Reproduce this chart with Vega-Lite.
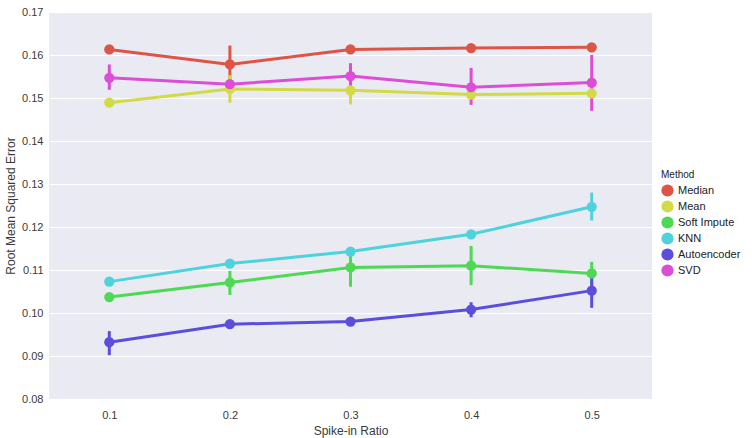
{
  "$schema": "https://vega.github.io/schema/vega-lite/v6.json",
  "autosize": {"type": "none"},
  "padding": {"left": 49, "top": 12, "right": 100, "bottom": 39},
  "width": 603,
  "height": 387,
  "background": "white",
  "config": {
    "font": "Liberation Sans",
    "view": {"fill": "#EAEAF2", "stroke": null},
    "axis": {"labelColor": "#3a3a3a", "titleColor": "#3a3a3a", "labelFontSize": 11, "titleFontSize": 12, "titleFontWeight": "normal", "domain": false, "ticks": false}
  },
  "data": {"values": [
    {"ratio": "0.1", "method": "Median", "rmse": 0.1613, "lo": 0.1610, "hi": 0.1616},
    {"ratio": "0.2", "method": "Median", "rmse": 0.1578, "lo": 0.1535, "hi": 0.1622},
    {"ratio": "0.3", "method": "Median", "rmse": 0.1613, "lo": 0.1610, "hi": 0.1616},
    {"ratio": "0.4", "method": "Median", "rmse": 0.1616, "lo": 0.1613, "hi": 0.1619},
    {"ratio": "0.5", "method": "Median", "rmse": 0.1618, "lo": 0.1615, "hi": 0.1621},
    {"ratio": "0.1", "method": "Mean", "rmse": 0.1489, "lo": 0.1486, "hi": 0.1492},
    {"ratio": "0.2", "method": "Mean", "rmse": 0.1521, "lo": 0.1489, "hi": 0.1553},
    {"ratio": "0.3", "method": "Mean", "rmse": 0.1518, "lo": 0.1485, "hi": 0.1551},
    {"ratio": "0.4", "method": "Mean", "rmse": 0.1508, "lo": 0.1500, "hi": 0.1516},
    {"ratio": "0.5", "method": "Mean", "rmse": 0.1511, "lo": 0.1503, "hi": 0.1519},
    {"ratio": "0.1", "method": "Soft Impute", "rmse": 0.1037, "lo": 0.1034, "hi": 0.1040},
    {"ratio": "0.2", "method": "Soft Impute", "rmse": 0.1071, "lo": 0.1042, "hi": 0.1098},
    {"ratio": "0.3", "method": "Soft Impute", "rmse": 0.1106, "lo": 0.1061, "hi": 0.1140},
    {"ratio": "0.4", "method": "Soft Impute", "rmse": 0.1110, "lo": 0.1065, "hi": 0.1156},
    {"ratio": "0.5", "method": "Soft Impute", "rmse": 0.1092, "lo": 0.1065, "hi": 0.1119},
    {"ratio": "0.1", "method": "KNN", "rmse": 0.1073, "lo": 0.1070, "hi": 0.1076},
    {"ratio": "0.2", "method": "KNN", "rmse": 0.1115, "lo": 0.1105, "hi": 0.1125},
    {"ratio": "0.3", "method": "KNN", "rmse": 0.1143, "lo": 0.1133, "hi": 0.1153},
    {"ratio": "0.4", "method": "KNN", "rmse": 0.1183, "lo": 0.1173, "hi": 0.1193},
    {"ratio": "0.5", "method": "KNN", "rmse": 0.1247, "lo": 0.1215, "hi": 0.1280},
    {"ratio": "0.1", "method": "Autoencoder", "rmse": 0.0932, "lo": 0.0902, "hi": 0.0958},
    {"ratio": "0.2", "method": "Autoencoder", "rmse": 0.0974, "lo": 0.0965, "hi": 0.0983},
    {"ratio": "0.3", "method": "Autoencoder", "rmse": 0.0980, "lo": 0.0972, "hi": 0.0988},
    {"ratio": "0.4", "method": "Autoencoder", "rmse": 0.1008, "lo": 0.0990, "hi": 0.1025},
    {"ratio": "0.5", "method": "Autoencoder", "rmse": 0.1052, "lo": 0.1012, "hi": 0.1092},
    {"ratio": "0.1", "method": "SVD", "rmse": 0.1547, "lo": 0.1519, "hi": 0.1578},
    {"ratio": "0.2", "method": "SVD", "rmse": 0.1532, "lo": 0.1522, "hi": 0.1542},
    {"ratio": "0.3", "method": "SVD", "rmse": 0.1551, "lo": 0.1520, "hi": 0.1581},
    {"ratio": "0.4", "method": "SVD", "rmse": 0.1525, "lo": 0.1484, "hi": 0.1570},
    {"ratio": "0.5", "method": "SVD", "rmse": 0.1536, "lo": 0.1470, "hi": 0.1600}
  ]},
  "encoding": {
    "x": {"field": "ratio", "type": "ordinal", "scale": {"type": "point", "padding": 0.5}, "axis": {"title": "Spike-in Ratio", "labelAngle": 0, "grid": false, "labelPadding": 10, "titlePadding": 5}},
    "color": {"field": "method", "type": "nominal",
      "scale": {"domain": ["Median", "Mean", "Soft Impute", "KNN", "Autoencoder", "SVD"], "range": ["#dc5547", "#d2da48", "#4ed955", "#4ed2dc", "#5c4edc", "#dc4ed6"]},
      "legend": {"title": "Method", "orient": "none", "legendX": 612, "legendY": 158, "symbolType": "circle", "symbolSize": 150, "symbolStrokeWidth": 0, "symbolOpacity": 1, "labelFontSize": 11, "titleFontSize": 10, "titleFontWeight": "normal", "labelColor": "#222", "titleColor": "#222", "rowPadding": 3, "titlePadding": 4}
    }
  },
  "resolve": {"scale": {"y": "shared"}},
  "layer": [
    {"mark": {"type": "rule", "strokeWidth": 3},
     "encoding": {"y": {"field": "lo", "type": "quantitative", "scale": {"domain": [0.08, 0.17], "nice": false, "zero": false}}, "y2": {"field": "hi"}}},
    {"mark": {"type": "line", "strokeWidth": 3},
     "encoding": {"y": {"field": "rmse", "type": "quantitative", "scale": {"domain": [0.08, 0.17], "nice": false, "zero": false}, "axis": {"title": "Root Mean Squared Error", "values": [0.08, 0.09, 0.10, 0.11, 0.12, 0.13, 0.14, 0.15, 0.16, 0.17], "format": ".2f", "gridColor": "white", "gridWidth": 1.2, "labelPadding": 6, "titlePadding": 4}}}},
    {"mark": {"type": "point", "filled": true, "opacity": 1, "size": 105},
     "encoding": {"y": {"field": "rmse", "type": "quantitative", "scale": {"domain": [0.08, 0.17], "nice": false, "zero": false}}}}
  ]
}
